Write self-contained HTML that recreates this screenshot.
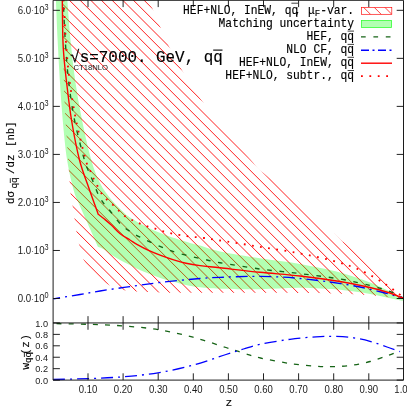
<!DOCTYPE html>
<html><head><meta charset="utf-8"><title>plot</title>
<style>html,body{margin:0;padding:0;background:#fff;}svg{display:block;will-change:transform;}text{font-family:"Liberation Sans",sans-serif;fill:#1a1a1a;}.m{font-family:"Liberation Mono",monospace;fill:#000;stroke:#000;stroke-width:0.14px;}</style></head><body>
<svg width="407" height="407" viewBox="0 0 407 407">
<rect width="407" height="407" fill="#fff"/>
<defs>
<clipPath id="cm"><rect x="53.1" y="0" width="350.4" height="322.8"/></clipPath>
<clipPath id="ch"><path d="M143.50,-4.00 C143.83,-3.33 144.07,-2.00 145.50,0.00 C146.93,2.00 149.65,3.50 152.10,8.00 C154.55,12.50 157.38,20.58 160.20,27.00 C163.02,33.42 165.40,39.33 169.00,46.50 C172.60,53.67 176.43,61.08 181.80,70.00 C187.17,78.92 194.00,90.00 201.20,100.00 C208.40,110.00 217.70,121.12 225.00,130.00 C232.30,138.88 240.50,148.10 245.00,153.30 C249.50,158.50 249.75,158.55 252.00,161.20 C254.25,163.85 256.33,167.03 258.50,169.20 C260.67,171.37 261.42,171.23 265.00,174.20 C268.58,177.17 274.17,181.95 280.00,187.00 C285.83,192.05 293.33,198.67 300.00,204.50 C306.67,210.33 315.00,217.70 320.00,222.00 C325.00,226.30 327.08,227.80 330.00,230.30 C332.92,232.80 335.50,235.18 337.50,237.00 C339.50,238.82 340.75,240.17 342.00,241.20 C343.25,242.23 342.83,241.40 345.00,243.20 C347.17,245.00 350.83,248.20 355.00,252.00 C359.17,255.80 365.00,261.17 370.00,266.00 C375.00,270.83 379.50,275.50 385.00,281.00 C390.50,286.50 400.00,296.00 403.00,299.00 L403.00,299.00 C395.83,298.25 377.17,295.50 360.00,294.50 C342.83,293.50 326.67,293.28 300.00,293.00 C273.33,292.72 223.33,292.88 200.00,292.80 C176.67,292.72 172.40,292.88 160.00,292.50 C147.60,292.12 133.78,291.58 125.60,290.50 C117.42,289.42 116.00,288.58 110.90,286.00 C105.80,283.42 99.52,279.33 95.00,275.00 C90.48,270.67 86.47,265.17 83.80,260.00 C81.13,254.83 80.22,248.72 79.00,244.00 C77.78,239.28 77.23,235.87 76.50,231.70 C75.77,227.53 75.25,223.28 74.60,219.00 C73.95,214.72 73.27,210.27 72.60,206.00 C71.93,201.73 71.10,197.47 70.60,193.40 C70.10,189.33 70.25,191.00 69.60,181.60 C68.95,172.20 67.52,149.77 66.70,137.00 C65.88,124.23 65.25,117.83 64.70,105.00 C64.15,92.17 63.82,77.50 63.40,60.00 C62.98,42.50 62.50,10.67 62.20,0.00 C61.90,-10.67 61.70,-3.33 61.60,-4.00Z"/></clipPath>
<clipPath id="cl"><rect x="361.4" y="7.4" width="30.4" height="6.9"/></clipPath>
</defs>
<g clip-path="url(#cm)">
<g clip-path="url(#ch)"><path d="M-287.95,-5 L47.05,330 M-277.28,-5 L57.72,330 M-266.61,-5 L68.39,330 M-255.94,-5 L79.06,330 M-245.27,-5 L89.73,330 M-234.60,-5 L100.40,330 M-223.93,-5 L111.07,330 M-213.26,-5 L121.74,330 M-202.59,-5 L132.41,330 M-191.92,-5 L143.08,330 M-181.25,-5 L153.75,330 M-170.58,-5 L164.42,330 M-159.91,-5 L175.09,330 M-149.24,-5 L185.76,330 M-138.57,-5 L196.43,330 M-127.90,-5 L207.10,330 M-117.23,-5 L217.77,330 M-106.56,-5 L228.44,330 M-95.89,-5 L239.11,330 M-85.22,-5 L249.78,330 M-74.55,-5 L260.45,330 M-63.88,-5 L271.12,330 M-53.21,-5 L281.79,330 M-42.54,-5 L292.46,330 M-31.87,-5 L303.13,330 M-21.20,-5 L313.80,330 M-10.53,-5 L324.47,330 M0.14,-5 L335.14,330 M10.81,-5 L345.81,330 M21.48,-5 L356.48,330 M32.15,-5 L367.15,330 M42.82,-5 L377.82,330 M53.49,-5 L388.49,330 M64.16,-5 L399.16,330 M74.83,-5 L409.83,330 M85.50,-5 L420.50,330 M96.17,-5 L431.17,330 M106.84,-5 L441.84,330 M117.51,-5 L452.51,330 M128.18,-5 L463.18,330 M138.85,-5 L473.85,330 M149.52,-5 L484.52,330 M160.19,-5 L495.19,330 M170.86,-5 L505.86,330 M181.53,-5 L516.53,330 M192.20,-5 L527.20,330 M202.87,-5 L537.87,330 M213.54,-5 L548.54,330 M224.21,-5 L559.21,330 M234.88,-5 L569.88,330 M245.55,-5 L580.55,330 M256.22,-5 L591.22,330 M266.89,-5 L601.89,330 M277.56,-5 L612.56,330 M288.23,-5 L623.23,330 M298.90,-5 L633.90,330 M309.57,-5 L644.57,330 M320.24,-5 L655.24,330 M330.91,-5 L665.91,330 M341.58,-5 L676.58,330 M352.25,-5 L687.25,330 M362.92,-5 L697.92,330 M373.59,-5 L708.59,330 M384.26,-5 L719.26,330 M394.93,-5 L729.93,330 M405.60,-5 L740.60,330" fill="none" stroke="#ff0000" stroke-width="0.88"/></g>
<path d="M66.70,-4.00 C66.80,-3.33 66.67,-7.33 67.30,0.00 C67.93,7.33 69.20,26.67 70.50,40.00 C71.80,53.33 73.18,66.67 75.10,80.00 C77.02,93.33 79.30,106.67 82.00,120.00 C84.70,133.33 88.30,149.50 91.30,160.00 C94.30,170.50 96.88,176.67 100.00,183.00 C103.12,189.33 106.67,193.70 110.00,198.00 C113.33,202.30 116.67,205.55 120.00,208.80 C123.33,212.05 125.12,214.25 130.00,217.50 C134.88,220.75 142.80,225.17 149.30,228.30 C155.80,231.43 162.22,233.85 169.00,236.30 C175.78,238.75 184.83,241.45 190.00,243.00 C195.17,244.55 195.00,244.20 200.00,245.60 C205.00,247.00 210.00,249.28 220.00,251.40 C230.00,253.52 246.67,256.20 260.00,258.30 C273.33,260.40 286.67,261.63 300.00,264.00 C313.33,266.37 328.33,269.42 340.00,272.50 C351.67,275.58 361.67,279.33 370.00,282.50 C378.33,285.67 384.50,288.83 390.00,291.50 C395.50,294.17 400.83,297.33 403.00,298.50 L403.00,300.80 C400.83,300.37 395.50,299.33 390.00,298.20 C384.50,297.07 378.33,295.40 370.00,294.00 C361.67,292.60 351.67,290.83 340.00,289.80 C328.33,288.77 313.33,287.90 300.00,287.80 C286.67,287.70 273.33,289.03 260.00,289.20 C246.67,289.37 230.00,289.12 220.00,288.80 C210.00,288.48 205.67,287.95 200.00,287.30 C194.33,286.65 190.38,285.82 186.00,284.90 C181.62,283.98 177.87,282.92 173.70,281.80 C169.53,280.68 165.12,279.55 161.00,278.20 C156.88,276.85 153.00,275.28 149.00,273.70 C145.00,272.12 140.45,270.27 137.00,268.70 C133.55,267.13 131.22,265.78 128.30,264.30 C125.38,262.82 122.22,261.30 119.50,259.80 C116.78,258.30 114.47,256.98 112.00,255.30 C109.53,253.62 107.05,251.12 104.70,249.70 C102.35,248.28 99.03,247.28 97.90,246.80 L97.90,246.80 C96.88,244.50 93.82,237.58 91.80,233.00 C89.78,228.42 87.95,224.17 85.80,219.30 C83.65,214.43 80.93,208.68 78.90,203.80 C76.87,198.92 75.57,197.30 73.60,190.00 C71.63,182.70 68.92,171.67 67.10,160.00 C65.28,148.33 63.92,133.33 62.70,120.00 C61.48,106.67 60.65,93.33 59.80,80.00 C58.95,66.67 58.25,53.33 57.60,40.00 C56.95,26.67 56.27,7.33 55.90,0.00 C55.53,-7.33 55.48,-3.33 55.40,-4.00Z" fill="#00ff00" fill-opacity="0.3"/>
<path d="M62.60,-4.00 C62.70,-3.33 62.77,-7.33 63.20,0.00 C63.63,7.33 64.32,26.67 65.20,40.00 C66.08,53.33 66.95,66.67 68.50,80.00 C70.05,93.33 71.85,106.67 74.50,120.00 C77.15,133.33 82.15,151.70 84.40,160.00 C86.65,168.30 86.70,166.53 88.00,169.80 C89.30,173.07 90.35,175.18 92.20,179.60 C94.05,184.02 96.97,192.07 99.10,196.30 C101.23,200.53 103.03,202.38 105.00,205.00 C106.97,207.62 108.28,208.78 110.90,212.00 C113.52,215.22 117.52,221.07 120.70,224.30 C123.88,227.53 126.78,229.27 130.00,231.40 C133.22,233.53 135.00,234.60 140.00,237.10 C145.00,239.60 153.33,243.65 160.00,246.40 C166.67,249.15 172.17,251.33 180.00,253.60 C187.83,255.87 200.33,258.48 207.00,260.00 C213.67,261.52 211.17,261.20 220.00,262.70 C228.83,264.20 246.67,267.18 260.00,269.00 C273.33,270.82 286.67,271.93 300.00,273.60 C313.33,275.27 328.33,277.02 340.00,279.00 C351.67,280.98 361.67,283.42 370.00,285.50 C378.33,287.58 384.50,289.42 390.00,291.50 C395.50,293.58 400.83,296.92 403.00,298.00" fill="none" stroke="#176417" stroke-width="1.4" stroke-dasharray="4.7 7.7"/>
<path d="M53.50,298.80 C57.92,298.08 72.25,295.80 80.00,294.50 C87.75,293.20 93.33,292.08 100.00,291.00 C106.67,289.92 115.00,288.73 120.00,288.00 C125.00,287.27 123.33,287.52 130.00,286.60 C136.67,285.68 148.33,283.85 160.00,282.50 C171.67,281.15 190.00,279.35 200.00,278.50 C210.00,277.65 211.67,277.75 220.00,277.40 C228.33,277.05 240.00,276.47 250.00,276.40 C260.00,276.33 271.67,276.65 280.00,277.00 C288.33,277.35 291.67,277.67 300.00,278.50 C308.33,279.33 320.00,280.58 330.00,282.00 C340.00,283.42 350.83,285.17 360.00,287.00 C369.17,288.83 377.83,291.17 385.00,293.00 C392.17,294.83 400.00,297.17 403.00,298.00" fill="none" stroke="#0000ff" stroke-width="1.35" stroke-dasharray="11.8 4.9 2 4.9" stroke-dashoffset="5"/>
<path d="M62.20,-4.00 C62.22,-3.33 62.18,-7.33 62.30,0.00 C62.42,7.33 62.58,30.00 62.90,40.00 C63.22,50.00 63.63,53.33 64.20,60.00 C64.77,66.67 65.08,70.00 66.30,80.00 C67.52,90.00 69.30,106.67 71.50,120.00 C73.70,133.33 76.67,148.83 79.50,160.00 C82.33,171.17 85.38,177.97 88.50,187.00 C91.62,196.03 96.58,209.67 98.20,214.20 L98.20,214.20 C99.28,215.05 102.47,217.45 104.70,219.30 C106.93,221.15 109.02,222.88 111.60,225.30 C114.18,227.72 117.13,231.35 120.20,233.80 C123.27,236.25 127.22,238.23 130.00,240.00 C132.78,241.77 133.72,242.62 136.90,244.40 C140.08,246.18 145.02,248.82 149.10,250.70 C153.18,252.58 157.30,254.17 161.40,255.70 C165.50,257.23 169.60,258.65 173.70,259.90 C177.80,261.15 181.62,262.25 186.00,263.20 C190.38,264.15 194.33,264.83 200.00,265.60 C205.67,266.37 210.00,266.68 220.00,267.80 C230.00,268.92 246.67,270.93 260.00,272.30 C273.33,273.67 286.67,274.47 300.00,276.00 C313.33,277.53 328.33,279.58 340.00,281.50 C351.67,283.42 361.67,285.58 370.00,287.50 C378.33,289.42 384.50,291.25 390.00,293.00 C395.50,294.75 400.83,297.17 403.00,298.00" fill="none" stroke="#ff0000" stroke-width="1.4" stroke-linejoin="round"/>
<path d="M63.00,-4.00 C63.10,-3.33 63.13,-7.33 63.60,0.00 C64.07,7.33 64.82,26.67 65.80,40.00 C66.78,53.33 67.80,66.67 69.50,80.00 C71.20,93.33 73.25,106.50 76.00,120.00 C78.75,133.50 83.62,152.53 86.00,161.00 C88.38,169.47 89.03,167.85 90.30,170.80 C91.57,173.75 92.45,176.25 93.60,178.70 C94.75,181.15 95.88,183.05 97.20,185.50 C98.52,187.95 99.93,191.10 101.50,193.40 C103.07,195.70 104.70,197.40 106.60,199.30 C108.50,201.20 110.87,202.90 112.90,204.80 C114.93,206.70 116.83,208.83 118.80,210.70 C120.77,212.57 122.50,214.45 124.70,216.00 C126.90,217.55 129.53,218.77 132.00,220.00 C134.47,221.23 136.95,222.35 139.50,223.40 C142.05,224.45 144.68,225.43 147.30,226.30 C149.92,227.17 152.63,227.78 155.20,228.60 C157.77,229.42 160.15,230.43 162.70,231.20 C165.25,231.97 167.82,232.60 170.50,233.20 C173.18,233.80 176.05,234.30 178.80,234.80 C181.55,235.30 182.85,235.67 187.00,236.20 C191.15,236.73 198.20,237.28 203.70,238.00 C209.20,238.72 211.45,239.17 220.00,240.50 C228.55,241.83 243.00,244.08 255.00,246.00 C267.00,247.92 279.50,249.67 292.00,252.00 C304.50,254.33 318.67,257.00 330.00,260.00 C341.33,263.00 350.83,266.00 360.00,270.00 C369.17,274.00 377.83,279.50 385.00,284.00 C392.17,288.50 400.00,294.83 403.00,297.00" fill="none" stroke="#ff0000" stroke-width="1.8" stroke-dasharray="1.8 6.455" stroke-dashoffset="3.5"/>
</g>
<path d="M53.10,323.60 C58.92,323.72 76.35,323.92 88.00,324.30 C99.65,324.68 111.33,325.02 123.00,325.90 C134.67,326.78 146.33,327.72 158.00,329.60 C169.67,331.48 181.67,334.22 193.00,337.20 C204.33,340.18 217.58,344.87 226.00,347.50 C234.42,350.13 237.75,351.25 243.50,353.00 C249.25,354.75 252.75,356.25 260.50,358.00 C268.25,359.75 280.75,362.13 290.00,363.50 C299.25,364.87 308.67,365.68 316.00,366.20 C323.33,366.72 328.00,366.75 334.00,366.60 C340.00,366.45 346.00,366.15 352.00,365.30 C358.00,364.45 364.17,363.08 370.00,361.50 C375.83,359.92 382.08,357.55 387.00,355.80 C391.92,354.05 397.42,351.80 399.50,351.00" fill="none" stroke="#176417" stroke-width="1.3" stroke-dasharray="5 7.1" stroke-dashoffset="8.6"/>
<path d="M53.10,379.50 C58.92,379.35 76.35,379.05 88.00,378.60 C99.65,378.15 111.33,377.77 123.00,376.80 C134.67,375.83 146.33,374.73 158.00,372.80 C169.67,370.87 181.67,368.25 193.00,365.20 C204.33,362.15 217.58,357.20 226.00,354.50 C234.42,351.80 237.75,350.72 243.50,349.00 C249.25,347.28 252.75,345.82 260.50,344.20 C268.25,342.58 280.75,340.53 290.00,339.30 C299.25,338.07 308.67,337.28 316.00,336.80 C323.33,336.32 328.00,336.27 334.00,336.40 C340.00,336.53 346.00,336.78 352.00,337.60 C358.00,338.42 364.17,339.73 370.00,341.30 C375.83,342.87 382.00,345.28 387.00,347.00 C392.00,348.72 397.83,350.83 400.00,351.60" fill="none" stroke="#0000ff" stroke-width="1.3" stroke-dasharray="12 5 2 5"/>
<g stroke="#1c1c1c" stroke-width="1.0" fill="none">
<path d="M53.10,0.30 H403.50 V380.10 H53.10 Z"/>
<path d="M53.10,322.95 H403.50"/>
</g><g stroke="#0a0a0a" stroke-width="0.9" fill="none">
<path d="M53.10,298.50 h6.8 M403.50,298.50 h-6.8"/>
<path d="M53.10,250.47 h6.8 M403.50,250.47 h-6.8"/>
<path d="M53.10,202.44 h6.8 M403.50,202.44 h-6.8"/>
<path d="M53.10,154.41 h6.8 M403.50,154.41 h-6.8"/>
<path d="M53.10,106.38 h6.8 M403.50,106.38 h-6.8"/>
<path d="M53.10,58.35 h6.8 M403.50,58.35 h-6.8"/>
<path d="M53.10,10.32 h6.8 M403.50,10.32 h-6.8"/>
<path d="M88.00,0.30 v6.8 M88.00,316.15 v13.6 M88.00,380.10 v-6.8"/>
<path d="M123.10,0.30 v6.8 M123.10,316.15 v13.6 M123.10,380.10 v-6.8"/>
<path d="M158.20,0.30 v6.8 M158.20,316.15 v13.6 M158.20,380.10 v-6.8"/>
<path d="M193.30,0.30 v6.8 M193.30,316.15 v13.6 M193.30,380.10 v-6.8"/>
<path d="M228.40,0.30 v6.8 M228.40,316.15 v13.6 M228.40,380.10 v-6.8"/>
<path d="M263.50,0.30 v6.8 M263.50,316.15 v13.6 M263.50,380.10 v-6.8"/>
<path d="M298.60,0.30 v6.8 M298.60,316.15 v13.6 M298.60,380.10 v-6.8"/>
<path d="M333.70,0.30 v6.8 M333.70,316.15 v13.6 M333.70,380.10 v-6.8"/>
<path d="M368.80,0.30 v6.8 M368.80,316.15 v13.6 M368.80,380.10 v-6.8"/>
<path d="M53.10,380.10 h6.8 M403.50,380.10 h-6.8"/>
<path d="M53.10,368.67 h6.8 M403.50,368.67 h-6.8"/>
<path d="M53.10,357.24 h6.8 M403.50,357.24 h-6.8"/>
<path d="M53.10,345.81 h6.8 M403.50,345.81 h-6.8"/>
<path d="M53.10,334.38 h6.8 M403.50,334.38 h-6.8"/>
<path d="M53.10,322.95 h6.8 M403.50,322.95 h-6.8"/>
</g>
<text transform="translate(48.6,302.25) scale(1,1.17)" font-size="9.7" text-anchor="end">0.0<tspan font-size="6" dx="0.3" dy="-0.6">·</tspan><tspan dx="0.3" dy="0.6">10</tspan><tspan dy="-3.4" font-size="7.3">0</tspan></text>
<text transform="translate(48.6,254.22) scale(1,1.17)" font-size="9.7" text-anchor="end">1.0<tspan font-size="6" dx="0.3" dy="-0.6">·</tspan><tspan dx="0.3" dy="0.6">10</tspan><tspan dy="-3.4" font-size="7.3">3</tspan></text>
<text transform="translate(48.6,206.19) scale(1,1.17)" font-size="9.7" text-anchor="end">2.0<tspan font-size="6" dx="0.3" dy="-0.6">·</tspan><tspan dx="0.3" dy="0.6">10</tspan><tspan dy="-3.4" font-size="7.3">3</tspan></text>
<text transform="translate(48.6,158.16) scale(1,1.17)" font-size="9.7" text-anchor="end">3.0<tspan font-size="6" dx="0.3" dy="-0.6">·</tspan><tspan dx="0.3" dy="0.6">10</tspan><tspan dy="-3.4" font-size="7.3">3</tspan></text>
<text transform="translate(48.6,110.13) scale(1,1.17)" font-size="9.7" text-anchor="end">4.0<tspan font-size="6" dx="0.3" dy="-0.6">·</tspan><tspan dx="0.3" dy="0.6">10</tspan><tspan dy="-3.4" font-size="7.3">3</tspan></text>
<text transform="translate(48.6,62.10) scale(1,1.17)" font-size="9.7" text-anchor="end">5.0<tspan font-size="6" dx="0.3" dy="-0.6">·</tspan><tspan dx="0.3" dy="0.6">10</tspan><tspan dy="-3.4" font-size="7.3">3</tspan></text>
<text transform="translate(48.6,14.07) scale(1,1.17)" font-size="9.7" text-anchor="end">6.0<tspan font-size="6" dx="0.3" dy="-0.6">·</tspan><tspan dx="0.3" dy="0.6">10</tspan><tspan dy="-3.4" font-size="7.3">3</tspan></text>
<text transform="translate(48.0,383.65) scale(1,1.03)" font-size="9.2" text-anchor="end">0.0</text>
<text transform="translate(48.0,372.22) scale(1,1.03)" font-size="9.2" text-anchor="end">0.2</text>
<text transform="translate(48.0,360.79) scale(1,1.03)" font-size="9.2" text-anchor="end">0.4</text>
<text transform="translate(48.0,349.36) scale(1,1.03)" font-size="9.2" text-anchor="end">0.6</text>
<text transform="translate(48.0,337.93) scale(1,1.03)" font-size="9.2" text-anchor="end">0.8</text>
<text transform="translate(48.0,326.50) scale(1,1.03)" font-size="9.2" text-anchor="end">1.0</text>
<text transform="translate(88.00,393.0) scale(1,1.17)" font-size="9.55" text-anchor="middle">0.10</text>
<text transform="translate(123.10,393.0) scale(1,1.17)" font-size="9.55" text-anchor="middle">0.20</text>
<text transform="translate(158.20,393.0) scale(1,1.17)" font-size="9.55" text-anchor="middle">0.30</text>
<text transform="translate(193.30,393.0) scale(1,1.17)" font-size="9.55" text-anchor="middle">0.40</text>
<text transform="translate(228.40,393.0) scale(1,1.17)" font-size="9.55" text-anchor="middle">0.50</text>
<text transform="translate(263.50,393.0) scale(1,1.17)" font-size="9.55" text-anchor="middle">0.60</text>
<text transform="translate(298.60,393.0) scale(1,1.17)" font-size="9.55" text-anchor="middle">0.70</text>
<text transform="translate(333.70,393.0) scale(1,1.17)" font-size="9.55" text-anchor="middle">0.80</text>
<text transform="translate(368.80,393.0) scale(1,1.17)" font-size="9.55" text-anchor="middle">0.90</text>
<text transform="translate(401.00,393.0) scale(1,1.17)" font-size="9.55" text-anchor="middle">1.0</text>
<text x="229" y="405.5" font-size="11.3" class="m" text-anchor="middle">z</text>
<text transform="translate(13.6,203.9) rotate(-90)" font-size="10.75" class="m">dσ</text>
<text transform="translate(17.0,188.6) rotate(-90)" font-size="9.5" class="m">qq</text>
<text transform="translate(13.6,174.0) rotate(-90)" font-size="10.75" class="m">/dz</text>
<text transform="translate(13.6,146.9) rotate(-90)" font-size="10.75" class="m" letter-spacing="-0.1">[nb]</text>
<path d="M10.3,183.0 v-4.8" stroke="#000" stroke-width="0.8"/>
<text transform="translate(28.5,369.6) rotate(-90)" font-size="10.9" class="m">w<tspan dy="2.6" font-size="9.2">qq</tspan></text>
<text transform="translate(28.5,354.7) rotate(-90)" font-size="10.9" class="m" letter-spacing="0.46">(z)</text>
<path d="M24.4,357.0 v-4.8" stroke="#000" stroke-width="0.8"/>
<text transform="translate(70.2,61.6) scale(1,1.06)" font-size="15.9" class="m">√s=7000. GeV, qq</text>
<path d="M213.2,50.1 h9.3" stroke="#000" stroke-width="1.1"/>
<text x="73.4" y="69.6" font-size="7.7">CT18NLO</text>
<text transform="translate(354.0,13.5) scale(1,1.06)" font-size="11.3" class="m" text-anchor="end">, μ<tspan dy="1.9" font-size="9">F</tspan><tspan dy="-1.9">-var.</tspan></text>
<text transform="translate(354.0,26.7) scale(1,1.06)" font-size="11.3" class="m" text-anchor="end">Matching uncertainty</text>
<text transform="translate(354.0,39.7) scale(1,1.06)" font-size="11.3" class="m" text-anchor="end">HEF, qq</text>
<text transform="translate(354.0,53.0) scale(1,1.06)" font-size="11.3" class="m" text-anchor="end">NLO CF, qq</text>
<text transform="translate(354.0,65.9) scale(1,1.06)" font-size="11.3" class="m" text-anchor="end">HEF+NLO, InEW, qq</text>
<text transform="translate(354.0,79.1) scale(1,1.06)" font-size="11.3" class="m" text-anchor="end">HEF+NLO, subtr., qq</text>
<path d="M347.6,31.1 h6.4" stroke="#111" stroke-width="0.8"/>
<path d="M347.6,44.4 h6.4" stroke="#111" stroke-width="0.8"/>
<path d="M347.6,57.3 h6.4" stroke="#111" stroke-width="0.8"/>
<path d="M347.6,70.5 h6.4" stroke="#111" stroke-width="0.8"/>
<text transform="translate(298.2,13.5) scale(1,1.06)" font-size="11.3" class="m" text-anchor="end">HEF+NLO, InEW, qq</text>
<path d="M291.4,3.2 h6.6" stroke="#111" stroke-width="0.8"/>
<rect x="361.4" y="7.4" width="30.4" height="6.9" fill="#fff" stroke="#ff0000" stroke-width="0.65"/>
<g clip-path="url(#cl)"><path d="M356.2,0 l20,20 M366.9,0 l20,20 M377.5,0 l20,20 M345.5,0 l20,20" stroke="#ff0000" stroke-width="0.75"/></g>
<rect x="361.5" y="20.5" width="30" height="7" fill="#b2ffb2" stroke="#33ff33" stroke-width="0.8"/>
<path d="M361,36.9 H392" stroke="#176417" stroke-width="1.4" stroke-dasharray="4.7 7.7"/>
<path d="M361,50.2 H392" stroke="#0000ff" stroke-width="1.35" stroke-dasharray="8 3.5 2 3.5"/>
<path d="M361,63.2 H392" stroke="#ff0000" stroke-width="1.4"/>
<path d="M361,76.1 H392" stroke="#ff0000" stroke-width="1.8" stroke-dasharray="1.8 6.6"/>
</svg></body></html>
